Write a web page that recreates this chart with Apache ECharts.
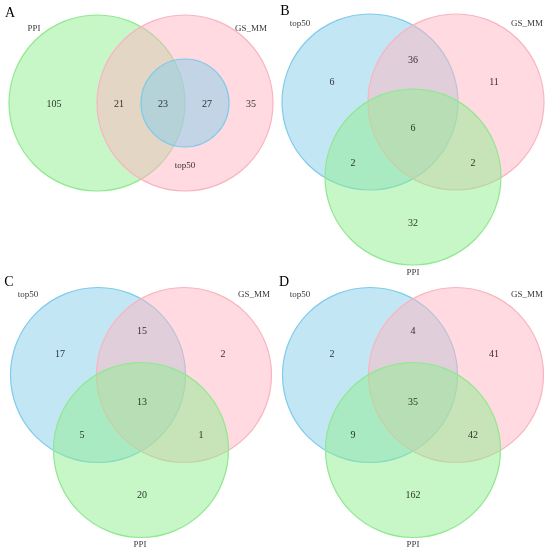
<!DOCTYPE html>
<html>
<head>
<meta charset="utf-8">
<script src="https://cdn.jsdelivr.net/npm/echarts@6/dist/echarts.min.js"></script>
<style>
html, body { margin: 0; padding: 0; background: #fff; }
#main { width: 550px; height: 556px; }
</style>
</head>
<body>
<div id="main"></div>
<script>
// panel letters and set names
var panelLetters = ['A', 'B', 'C', 'D'];
var setsA = ['PPI', 'GS_MM', 'top50'];
var setsBCD = ['top50', 'GS_MM', 'PPI'];

// region counts (A: PPI only, PPI&GS, all three, GS&top50, GS only)
var countsA = [105, 21, 23, 27, 35];
// B/C/D: top50 only, top50&GS, GS only, all three, top50&PPI, GS&PPI, PPI only
var countsB = [6, 36, 11, 6, 2, 2, 32];
var countsC = [17, 15, 2, 13, 5, 1, 20];
var countsD = [2, 4, 41, 35, 9, 42, 162];

var colors = {
    'PPI':   { fill: 'rgba(144,238,144,0.5)', stroke: '#90e890' },
    'GS_MM': { fill: 'rgba(255,182,193,0.5)', stroke: '#f9b4c0' },
    'top50': { fill: 'rgba(135,206,235,0.5)', stroke: '#7fcbea' }
};

// layout of each panel (grid units = px inside a 275 x 278 cell)
var panels = [
    {
        left: 0, top: 0, sets: setsA, counts: countsA,
        circles: [[97, 103, 88], [185, 103, 88], [185, 103, 44]],
        setLabels: [[34, 29], [251, 29], [185, 166]],
        countPos: [[54, 104], [119, 104], [163, 104], [207, 104], [251, 104]],
        letter: [10, 13.5]
    },
    {
        left: 275, top: 0, sets: setsBCD, counts: countsB,
        circles: [[95, 102, 88], [181, 102, 88], [138, 177, 88]],
        setLabels: [[25, 24], [252, 24], [138, 273]],
        countPos: [[57, 82], [138, 60], [219, 82], [138, 128], [78, 163], [198, 163], [138, 223]],
        letter: [10, 11.5]
    },
    {
        left: 0, top: 278, sets: setsBCD, counts: countsC,
        circles: [[98, 97, 87.5], [184, 97, 87.5], [141, 172, 87.5]],
        setLabels: [[28, 17], [254, 17], [140, 267]],
        countPos: [[60, 76], [142, 53], [223, 76], [142, 124], [82, 157], [201, 157], [142, 217]],
        letter: [9, 4.5]
    },
    {
        left: 275, top: 278, sets: setsBCD, counts: countsD,
        circles: [[95, 97, 87.5], [181, 97, 87.5], [138, 172, 87.5]],
        setLabels: [[25, 17], [252, 17], [138, 267]],
        countPos: [[57, 76], [138, 53], [219, 76], [138, 124], [78, 157], [198, 157], [138, 217]],
        letter: [9, 4.5]
    }
];

var FONT = '"Liberation Serif", "Times New Roman", serif';

var grids = [], xAxes = [], yAxes = [], series = [], letters = [];

panels.forEach(function (p, i) {
    grids.push({ left: p.left, top: p.top, width: 275, height: 278 });
    xAxes.push({ gridIndex: i, type: 'value', min: 0, max: 275, show: false });
    yAxes.push({ gridIndex: i, type: 'value', min: 0, max: 278, inverse: true, show: false });

    var sets = p.sets;
    // circles
    series.push({
        type: 'custom',
        xAxisIndex: i,
        yAxisIndex: i,
        silent: true,
        data: p.circles.map(function (c, k) { return { name: sets[k], value: c }; }),
        renderItem: function (params, api) {
            var c = api.coord([api.value(0), api.value(1)]);
            var r = Math.abs(api.size([api.value(2), 0])[0]);
            var col = colors[sets[params.dataIndex]];
            return {
                type: 'circle',
                shape: { cx: c[0], cy: c[1], r: r },
                style: { fill: col.fill, stroke: col.stroke, lineWidth: 1.2 }
            };
        }
    });
    // set names
    series.push({
        type: 'scatter',
        xAxisIndex: i,
        yAxisIndex: i,
        symbolSize: 0,
        silent: true,
        data: sets.map(function (s, k) { return { name: s, value: p.setLabels[k] }; }),
        label: {
            show: true, position: 'inside', formatter: '{b}',
            fontFamily: FONT, fontSize: 9, color: '#000'
        }
    });
    // region counts
    series.push({
        type: 'scatter',
        xAxisIndex: i,
        yAxisIndex: i,
        symbolSize: 0,
        silent: true,
        data: p.counts.map(function (v, k) { return { name: String(v), value: p.countPos[k] }; }),
        label: {
            show: true, position: 'inside', formatter: '{b}',
            fontFamily: FONT, fontSize: 10, color: '#000'
        }
    });
    letters.push({
        type: 'text',
        x: p.left + p.letter[0],
        y: p.top + p.letter[1],
        silent: true,
        style: {
            text: panelLetters[i], fontFamily: FONT, fontSize: 14,
            fill: '#000', align: 'center', verticalAlign: 'middle'
        }
    });
});

var myChart = echarts.init(document.getElementById('main'));
myChart.setOption({
    backgroundColor: '#fff',
    animation: false,
    grid: grids,
    xAxis: xAxes,
    yAxis: yAxes,
    series: series,
    graphic: letters
});
</script>
</body>
</html>
